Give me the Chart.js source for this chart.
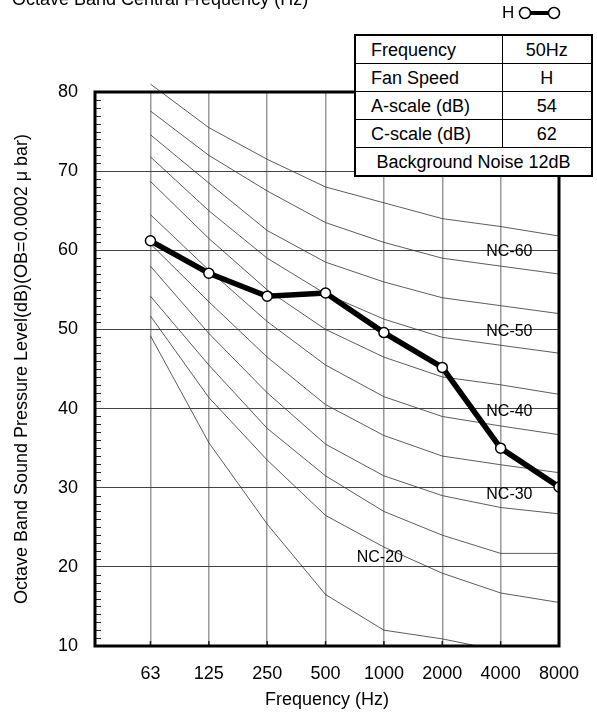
<!DOCTYPE html>
<html>
<head>
<meta charset="utf-8">
<script src="https://cdn.jsdelivr.net/npm/chart.js@4/dist/chart.umd.min.js"></script>
<style>
    html, body { margin: 0; padding: 0; background: #fff; }
    body { width: 597px; height: 722px; position: relative; overflow: hidden; font-family: "Liberation Sans", Arial, sans-serif; color: #000; }
    #wrap { position: absolute; left: 0; top: 0; width: 597px; height: 722px; }
    #topTitle { position: absolute; left: 12px; top: -11px; font-size: 18px; white-space: nowrap; }
    #legend { position: absolute; left: 502px; top: 3px; font-size: 17px; display: flex; align-items: center; }
    #legend svg { margin-left: 4px; }
    #specTable { position: absolute; left: 354px; top: 34px; width: 237px; table-layout: fixed; border-collapse: collapse; background: #fff; font-size: 18px; border: 2px solid #000; }
    #specTable td { border: 1.5px solid #000; height: 27px; padding: 0; line-height: 20px; }
    #specTable td.k { padding-left: 15px; }
    #specTable td.v { text-align: center; }
    #specTable td.full { text-align: center; }
</style>
</head>
<body>
<div id="wrap"><canvas id="ncChart" width="597" height="722"></canvas></div>
<div id="topTitle">Octave Band Central Frequency (Hz)</div>
<div id="legend"><span>H</span><svg width="44" height="16"><line x1="8" y1="8" x2="35" y2="8" stroke="#000" stroke-width="4"/><circle cx="7" cy="8" r="5.5" fill="#fff" stroke="#000" stroke-width="1.5"/><circle cx="36" cy="8" r="5.5" fill="#fff" stroke="#000" stroke-width="1.5"/></svg></div>
<table id="specTable">
    <colgroup><col style="width:147px"><col style="width:90px"></colgroup>
    <tr><td class="k">Frequency</td><td class="v">50Hz</td></tr>
    <tr><td class="k">Fan Speed</td><td class="v">H</td></tr>
    <tr><td class="k">A-scale (dB)</td><td class="v">54</td></tr>
    <tr><td class="k">C-scale (dB)</td><td class="v">62</td></tr>
    <tr><td class="full" colspan="2">Background Noise 12dB</td></tr>
</table>
<script>
// octave bands on the x axis
const freqLabels = ['63', '125', '250', '500', '1000', '2000', '4000', '8000'];
const yTicks = [10, 20, 30, 40, 50, 60, 70, 80];

// measured level, fan speed H
const hLevels = [61.2, 57.1, 54.2, 54.6, 49.6, 45.2, 35.0, 30.1];

// NC reference curves
const nc65 = [81, 75.5, 71.5, 68, 66, 64, 63, 61.8];
const nc60 = [77.6, 72, 67.5, 63.5, 61, 59, 58, 57];
const nc55 = [74.6, 68.5, 62.5, 58.5, 56, 54, 53, 52];
const nc50 = [71.8, 65, 59, 54.5, 51.3, 49, 48, 47];
const nc45 = [68.7, 61.5, 55, 50, 46.5, 44, 43, 41.8];
const nc40 = [64.5, 57.5, 51, 45.5, 41.5, 39, 37.8, 36.7];
const nc35 = [60.8, 53.5, 46.5, 40.5, 36.6, 34, 32.9, 31.9];
const nc30 = [58, 49.5, 42, 35.5, 31.5, 29, 27.5, 26.7];
const nc25 = [54.2, 45.5, 37.5, 31.5, 27, 24, 21.7, 21.7];
const nc20 = [51.7, 41.4, 33.5, 26.5, 22.5, 19.2, 16.7, 15.5];
const nc15 = [49.2, 35.7, 25.4, 16.5, 12.0, 10.9, 9.4, 9.0];

const ncCurves = [nc65, nc60, nc55, nc50, nc45, nc40, nc35, nc30, nc25, nc20, nc15];

// curve labels: text, band index, level
const ncLabelText = ['NC-60', 'NC-50', 'NC-40', 'NC-30', 'NC-20'];
const ncLabelBand = [6.15, 6.15, 6.15, 6.15, 3.93];
const ncLabelLevel = [59.8, 49.7, 39.6, 29.1, 21.2];

const FONT = '"Liberation Sans", Arial, sans-serif';

function toPoints(arr) {
    return arr.map((v, i) => ({ x: i, y: v }));
}

const datasets = [{
    label: 'H',
    data: toPoints(hLevels),
    borderColor: '#000',
    borderWidth: 5.5,
    pointRadius: 5,
    pointBackgroundColor: '#fff',
    pointBorderColor: '#000',
    pointBorderWidth: 1.5,
    tension: 0
}];

ncCurves.forEach((curve, idx) => {
    datasets.push({
        label: 'nc' + idx,
        data: toPoints(curve),
        borderColor: '#333',
        borderWidth: 0.8,
        pointRadius: 0,
        tension: 0,
        clip: idx === 0 ? false : undefined
    });
});

// frame, inner ticks and NC labels
const framePlugin = {
    id: 'frame',
    afterDatasetsDraw(chart) {
        const { ctx, chartArea, scales } = chart;
        const xs = scales.x, ys = scales.y;
        ctx.save();
        ctx.fillStyle = '#000';
        ctx.font = '16px ' + FONT;
        ctx.textAlign = 'center';
        ctx.textBaseline = 'middle';
        ncLabelText.forEach((t, i) => {
            ctx.fillText(t, xs.getPixelForValue(ncLabelBand[i]), ys.getPixelForValue(ncLabelLevel[i]));
        });

        // minor ticks on the left border
        ctx.strokeStyle = '#222';
        ctx.lineWidth = 1;
        for (let v = 11; v < 80; v++) {
            if (v % 10 === 0) continue;
            const y = Math.round(ys.getPixelForValue(v)) + 0.5;
            ctx.beginPath();
            ctx.moveTo(chartArea.left, y);
            ctx.lineTo(chartArea.left + 6, y);
            ctx.stroke();
        }
        // ticks on the bottom border
        ctx.lineWidth = 1.5;
        freqLabels.forEach((_, i) => {
            const x = xs.getPixelForValue(i);
            ctx.beginPath();
            ctx.moveTo(x, chartArea.bottom);
            ctx.lineTo(x, chartArea.bottom - 5);
            ctx.stroke();
        });

        ctx.lineWidth = 3;
        ctx.strokeStyle = '#000';
        ctx.strokeRect(chartArea.left, chartArea.top, chartArea.right - chartArea.left, chartArea.bottom - chartArea.top);
        ctx.restore();
    }
};

const ctx = document.getElementById('ncChart').getContext('2d');
new Chart(ctx, {
    type: 'line',
    data: { datasets: datasets },
    options: {
        responsive: false,
        animation: false,
        events: [],
        layout: { padding: { top: 92, right: 38, left: 0, bottom: 0 } },
        plugins: {
            legend: { display: false },
            tooltip: { enabled: false }
        },
        scales: {
            x: {
                type: 'linear',
                min: -0.95,
                max: 7,
                afterBuildTicks: s => { s.ticks = freqLabels.map((_, i) => ({ value: i })); },
                afterFit: s => { s.height = 76; },
                ticks: {
                    callback: v => freqLabels[v],
                    autoSkip: false,
                    maxRotation: 0,
                    color: '#000',
                    padding: 17,
                    font: { family: FONT, size: 18 }
                },
                grid: { color: '#9a9a9a', lineWidth: 1.5, drawTicks: false },
                border: { display: false },
                title: {
                    display: true,
                    text: 'Frequency (Hz)',
                    color: '#000',
                    padding: { top: 0, bottom: 11 },
                    font: { family: FONT, size: 18 }
                }
            },
            y: {
                min: 10,
                max: 80,
                afterBuildTicks: s => { s.ticks = yTicks.map(v => ({ value: v })); },
                afterFit: s => { s.width = 95; },
                ticks: {
                    color: '#000',
                    padding: 17,
                    font: { family: FONT, size: 18 }
                },
                grid: { color: '#444', lineWidth: 1, drawTicks: false },
                border: { display: false },
                title: {
                    display: true,
                    text: 'Octave Band Sound Pressure Level(dB)(OB=0.0002 μ bar)',
                    color: '#000',
                    padding: { top: 11, bottom: 0 },
                    font: { family: FONT, size: 18 }
                }
            }
        }
    },
    plugins: [framePlugin]
});
</script>
</body>
</html>
